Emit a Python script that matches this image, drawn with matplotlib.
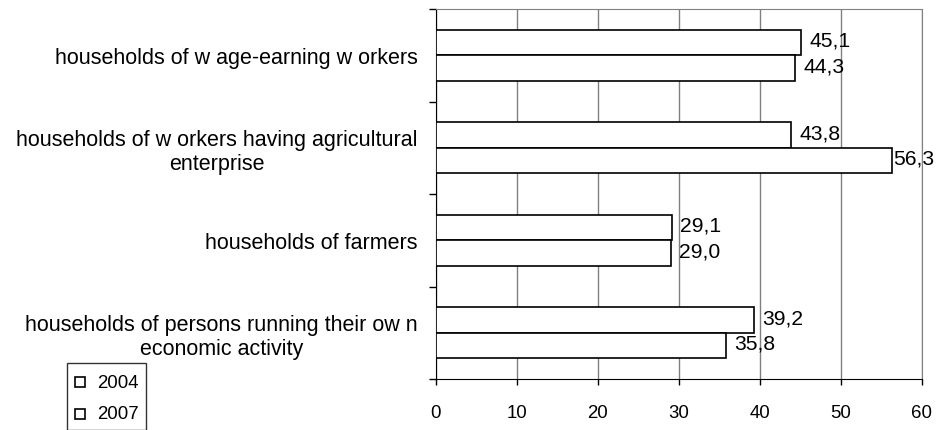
import numpy as np
import matplotlib
matplotlib.use('Agg')
import matplotlib.pyplot as plt
from matplotlib.lines import Line2D
from matplotlib.legend_handler import HandlerLine2D

plt.rcParams['font.family'] = ['Liberation Sans', 'DejaVu Sans']

categories = [
    'households of w age-earning w orkers',
    'households of w orkers having agricultural\nenterprise',
    'households of farmers',
    'households of persons running their ow n\neconomic activity',
]
years = ['2004', '2007']
values_2004 = [45.1, 43.8, 29.1, 39.2]
values_2007 = [44.3, 56.3, 29.0, 35.8]
x_ticks = [0, 10, 20, 30, 40, 50, 60]

fs_small = 13.4
fs_big = 15.2
fs_cat = 15.5


class LowerMarker(HandlerLine2D):
    # tall legend rows push the marker up; bring it back level with the text
    def create_artists(self, legend, orig_handle, xdescent, ydescent, width, height, fontsize, trans):
        return super().create_artists(legend, orig_handle, xdescent, ydescent + 0.36 * fontsize,
                                      width, height, fontsize, trans)


fig = plt.figure(figsize=(9.37, 4.31), dpi=100)
ax = fig.add_axes([436 / 937, 1 - 380 / 431, 486 / 937, 370 / 431])

y = np.arange(len(categories))
h = 0.276
bars1 = ax.barh(y - h / 2, values_2004, height=h, color='white', edgecolor='black', linewidth=1.2, zorder=3)
bars2 = ax.barh(y + h / 2, values_2007, height=h, color='white', edgecolor='black', linewidth=1.2, zorder=3)

labels = []
for bars in (bars1, bars2):
    for b in bars:
        w = b.get_width()
        t = ax.annotate(f'{w:.1f}'.replace('.', ','), (w, b.get_y() + b.get_height() / 2),
                        xytext=(6, 1.5), textcoords='offset points', ha='left', va='center',
                        fontsize=fs_big, zorder=4, annotation_clip=False)
        labels.append(t)

ax.set_xlim(0, 60)
ax.set_ylim(len(categories) - 0.5, -0.5)
ax.set_xticks(x_ticks)
ax.set_xticklabels([str(t) for t in x_ticks], fontsize=fs_small)
ax.tick_params(axis='x', direction='out', length=4, width=1, color='black', pad=14)

ax.set_yticks(np.arange(len(categories) + 1) - 0.5)
ax.set_yticklabels([])
ax.tick_params(axis='y', which='major', direction='out', length=5, width=1)
ax.set_yticks(y, categories, minor=True)
ax.tick_params(axis='y', which='minor', length=0, pad=13, labelsize=fs_cat)
for lbl in ax.get_yticklabels(minor=True):
    lbl.set_multialignment('center')

ax.grid(axis='x', color='#808080', linewidth=1, zorder=0)
ax.set_axisbelow(True)
ax.spines['top'].set_color('#808080')
ax.spines['right'].set_color('#808080')
ax.spines['left'].set_color('black')
ax.spines['bottom'].set_color('black')

# keep data labels inside the picture, like the spreadsheet does
fig.canvas.draw()
renderer = fig.canvas.get_renderer()
fig_w = fig.bbox.width
for t in labels:
    bb = t.get_window_extent(renderer)
    if bb.x1 > fig_w - 3:
        shift = (bb.x1 - (fig_w - 3)) * 72 / fig.dpi
        ox, oy = t.xyann
        t.xyann = (ox - shift, oy)

handles = [Line2D([], [], marker='s', linestyle='none', markersize=7,
                  markerfacecolor='white', markeredgecolor='black', markeredgewidth=1.2)
           for _ in years]
fig.legend(handles, years, loc='upper left', bbox_to_anchor=(67 / 937, 1 - 364 / 431),
           frameon=True, fancybox=False, edgecolor='black', fontsize=fs_small,
           handlelength=0.6, handleheight=1.25, handletextpad=0.6, labelspacing=0.63,
           borderpad=0.4, borderaxespad=0, handler_map={Line2D: LowerMarker()})

fig.savefig('out.png', dpi=100)
